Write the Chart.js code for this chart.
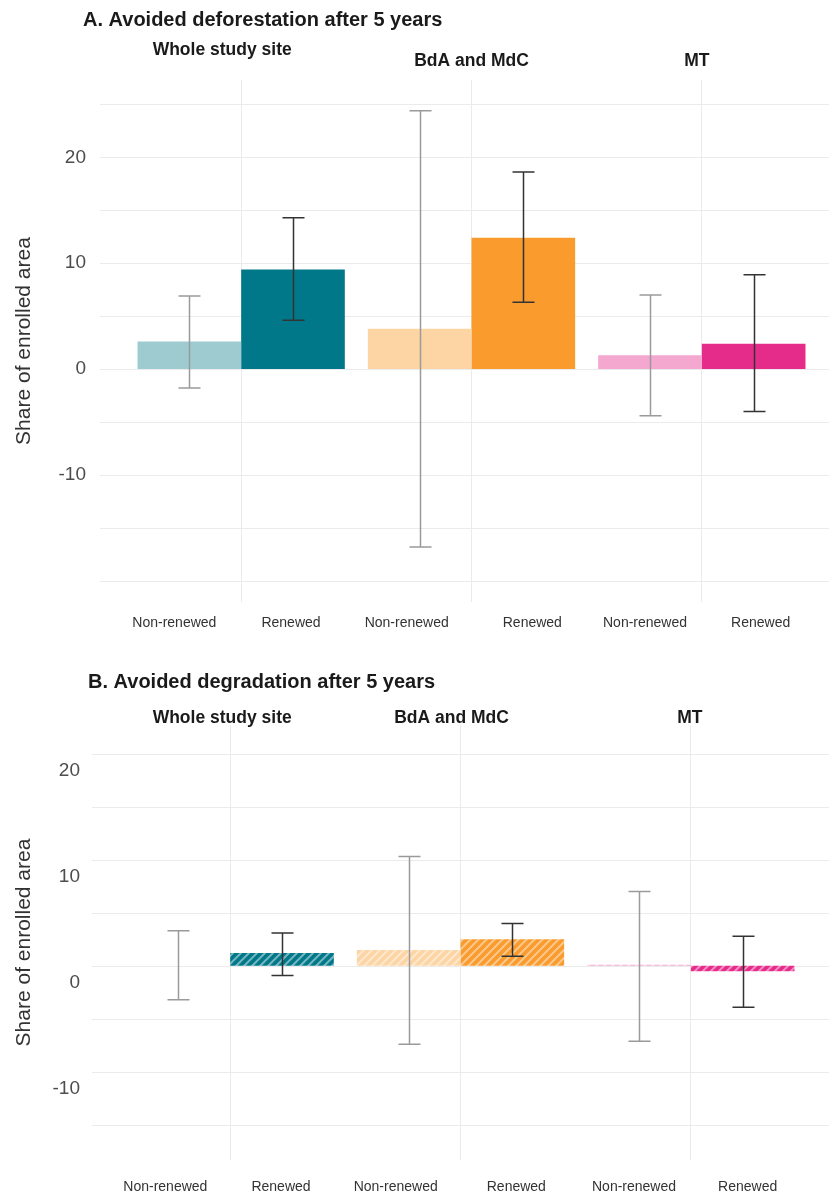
<!DOCTYPE html>
<html>
<head>
<meta charset="utf-8">
<script src="https://cdn.jsdelivr.net/npm/chart.js@4"></script>
<style>
  html, body { margin: 0; padding: 0; background: #fff; overflow: hidden; }
  body { width: 829px; height: 1194px; position: relative; }
  .panel { position: absolute; left: 0; width: 829px; }
  #panel-a { top: 0; height: 640px; }
  #panel-b { top: 650px; height: 544px; }
</style>
</head>
<body>
<div class="panel" id="panel-a"><canvas id="chart-a"></canvas></div>
<div class="panel" id="panel-b"><canvas id="chart-b"></canvas></div>
<script>
const facets = ['Whole study site', 'BdA and MdC', 'MT'];
const groups = ['Non-renewed', 'Renewed'];
const yTickLabels = [-10, 0, 10, 20];

// A. avoided deforestation
const defNonRenewed = [2.6, 3.8, 1.3];
const defNonRenewedLow = [-1.8, -16.8, -4.4];
const defNonRenewedHigh = [6.9, 24.4, 7.0];
const defRenewed = [9.4, 12.4, 2.4];
const defRenewedLow = [4.6, 6.3, -4.0];
const defRenewedHigh = [14.3, 18.6, 8.9];

// B. avoided degradation
const degNonRenewed = [0, 1.5, 0.1];
const degNonRenewedLow = [-3.2, -7.4, -7.1];
const degNonRenewedHigh = [3.3, 10.3, 7.0];
const degRenewed = [1.2, 2.5, -0.5];
const degRenewedLow = [-0.9, 0.9, -3.9];
const degRenewedHigh = [3.1, 4.0, 2.8];

const lightColors = ['#9ecbd0', '#fdd5a5', '#f4a7cf'];
const darkColors = ['#00788a', '#f99b2d', '#e62c8a'];
const FONT = "'Liberation Sans', Arial, sans-serif";

function hatch(color) {
    let c = document.createElement('canvas');
    c.width = 8; c.height = 8;
    let g = c.getContext('2d');
    g.fillStyle = color;
    g.fillRect(0, 0, 8, 8);
    g.strokeStyle = 'rgba(255,255,255,0.45)';
    g.lineWidth = 2;
    g.beginPath();
    g.moveTo(0, 8); g.lineTo(8, 0);
    g.moveTo(-4, 4); g.lineTo(4, -4);
    g.moveTo(4, 12); g.lineTo(12, 4);
    g.stroke();
    return g.createPattern(c, 'repeat');
}

// grid extension, error bars, facet titles and bar labels
const panelPlugin = {
    id: 'panel',
    beforeDatasetsDraw(chart, args, opts) {
        const ctx = chart.ctx, y = chart.scales.y;
        ctx.save();
        ctx.strokeStyle = '#ebebeb';
        ctx.lineWidth = 1;
        y.ticks.forEach(t => {
            if (t.value % 5 !== 0) return;
            let py = Math.round(y.getPixelForValue(t.value)) + 0.5;
            ctx.beginPath();
            ctx.moveTo(opts.gridLeft, py);
            ctx.lineTo(chart.width, py);
            ctx.stroke();
        });
        ctx.restore();
    },
    afterDatasetsDraw(chart, args, opts) {
        const ctx = chart.ctx, y = chart.scales.y;
        ctx.save();
        chart.data.datasets.forEach((ds, i) => {
            let meta = chart.getDatasetMeta(i);
            ctx.strokeStyle = ds.errColor;
            ctx.lineWidth = 1.5;
            meta.data.forEach((bar, j) => {
                let x = Math.round(bar.x) + 0.5;
                let top = y.getPixelForValue(ds.errHigh[j]);
                let bot = y.getPixelForValue(ds.errLow[j]);
                ctx.beginPath();
                ctx.moveTo(x, top); ctx.lineTo(x, bot);
                ctx.moveTo(x - 11, top); ctx.lineTo(x + 11, top);
                ctx.moveTo(x - 11, bot); ctx.lineTo(x + 11, bot);
                ctx.stroke();
            });
        });
        ctx.restore();
    },
    afterDraw(chart, args, opts) {
        const ctx = chart.ctx, x = chart.scales.x;
        ctx.save();
        ctx.fillStyle = '#1a1a1a';
        ctx.textBaseline = 'middle';
        ctx.font = 'bold 20px ' + FONT;
        ctx.textAlign = 'left';
        ctx.fillText(opts.title, opts.titleX, opts.titleY);
        ctx.font = 'bold 17.5px ' + FONT;
        ctx.textAlign = 'center';
        facets.forEach((f, j) => {
            ctx.fillText(f, x.getPixelForValue(j) + opts.facetDx[j], opts.facetY[j]);
        });
        ctx.font = '14px ' + FONT;
        ctx.fillStyle = '#333';
        chart.data.datasets.forEach((ds, i) => {
            chart.getDatasetMeta(i).data.forEach((bar, j) => {
                ctx.fillText(ds.label, bar.x + opts.labelDx[i][j], opts.labelY);
            });
        });
        ctx.restore();
    }
};

function makeChart(id, p) {
    return new Chart(document.getElementById(id), {
        type: 'bar',
        data: {
            labels: facets,
            datasets: [
                {
                    label: groups[0],
                    data: p.nr,
                    errLow: p.nrLow,
                    errHigh: p.nrHigh,
                    errColor: '#9a9a9a',
                    backgroundColor: p.nrColors,
                    categoryPercentage: 0.9,
                    barPercentage: 1.0,
                },
                {
                    label: groups[1],
                    data: p.r,
                    errLow: p.rLow,
                    errHigh: p.rHigh,
                    errColor: '#333333',
                    backgroundColor: p.rColors,
                    categoryPercentage: 0.9,
                    barPercentage: 1.0,
                },
            ],
        },
        options: {
            responsive: true,
            maintainAspectRatio: false,
            animation: false,
            layout: { padding: { top: p.top, right: p.right, left: 0, bottom: 0 } },
            scales: {
                x: {
                    grid: { offset: false, color: '#ebebeb', drawTicks: false },
                    border: { display: false },
                    ticks: { display: false },
                    afterFit: s => { s.height = p.xHeight; },
                },
                y: {
                    min: p.min,
                    max: p.max,
                    grid: { display: false, drawTicks: false },
                    border: { display: false },
                    ticks: {
                        stepSize: 5,
                        includeBounds: false,
                        padding: p.tickPad,
                        labelOffset: p.labelOffset,
                        color: '#4d4d4d',
                        font: { size: 19, family: FONT },
                        callback: v => yTickLabels.includes(v) ? String(v) : '',
                    },
                    title: {
                        display: true,
                        text: 'Share of enrolled area',
                        color: '#333',
                        font: { size: 21, family: FONT },
                        padding: { top: 12, bottom: 0 },
                    },
                    afterFit: s => {
                        s.width = p.yWidth;
                        // tick padding would otherwise shrink the plot vertically
                        s.paddingTop = 0;
                        s.paddingBottom = 0;
                    },
                },
            },
            plugins: {
                legend: { display: false },
                tooltip: { enabled: false },
                panel: {
                    gridLeft: p.gridLeft,
                    title: p.title,
                    titleX: p.titleX,
                    titleY: p.titleY,
                    facetDx: p.facetDx,
                    facetY: p.facetY,
                    labelY: p.labelY,
                    labelDx: p.labelDx,
                },
            },
        },
        plugins: [panelPlugin],
    });
}

makeChart('chart-a', {
    nr: defNonRenewed, nrLow: defNonRenewedLow, nrHigh: defNonRenewedHigh,
    r: defRenewed, rLow: defRenewedLow, rHigh: defRenewedHigh,
    nrColors: lightColors, rColors: darkColors,
    min: -22, max: 27.3,
    top: 80, right: 12, xHeight: 38, yWidth: 126, tickPad: 40, labelOffset: 0,
    gridLeft: 100,
    title: 'A. Avoided deforestation after 5 years', titleX: 83, titleY: 20,
    facetDx: [-19, 0, -5], facetY: [50, 61, 61],
    labelY: 623, labelDx: [[-15, -13, -5], [-2, 9, 7]],
});

makeChart('chart-b', {
    nr: degNonRenewed, nrLow: degNonRenewedLow, nrHigh: degNonRenewedHigh,
    r: degRenewed, rLow: degRenewedLow, rHigh: degRenewedHigh,
    nrColors: lightColors.map(hatch), rColors: darkColors.map(hatch),
    min: -18.3, max: 22.7,
    top: 75, right: 23, xHeight: 34, yWidth: 115, tickPad: 35, labelOffset: 17,
    gridLeft: 92,
    title: 'B. Avoided degradation after 5 years', titleX: 88, titleY: 32,
    facetDx: [-8, -9, -1], facetY: [68, 68, 68],
    labelY: 537, labelDx: [[-13, -13, -5], [-1, 4, 5]],
});
</script>
</body>
</html>
